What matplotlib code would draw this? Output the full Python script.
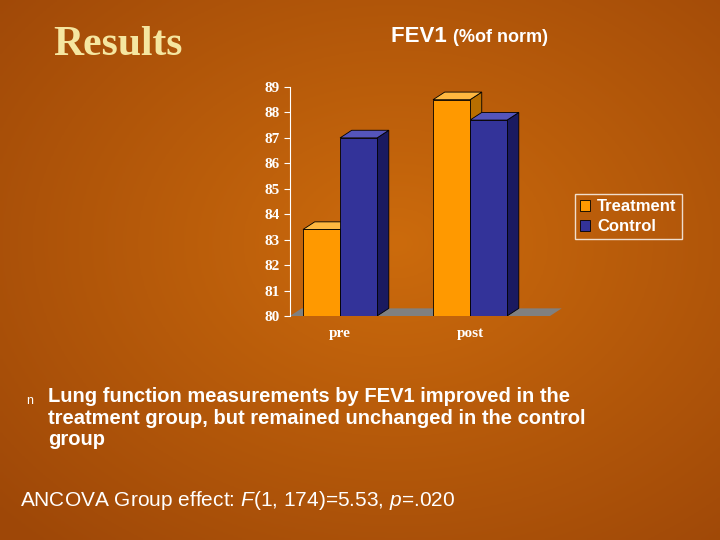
import numpy as np
import matplotlib
matplotlib.use("Agg")
import matplotlib.pyplot as plt
from matplotlib.patches import Polygon

groups = ["pre", "post"]
treatment = [83.4, 88.5]
control = [87.0, 87.7]
yticks = list(range(80, 90))

plt.rcParams["mathtext.fontset"] = "custom"
plt.rcParams["mathtext.it"] = "Liberation Sans:italic"
plt.rcParams["mathtext.rm"] = "Liberation Sans"

fig = plt.figure(figsize=(7.2, 5.4), dpi=100)
bg = fig.add_axes([0, 0, 1, 1]); bg.set_axis_off()
yy, xx = np.mgrid[0:1:200j, 0:1:200j]
r = np.sqrt((xx - 0.55) ** 2 + (yy - 0.45) ** 2)
img = np.zeros((200, 200, 3))
c1 = np.array([0.80, 0.42, 0.05]); c2 = np.array([0.62, 0.28, 0.03])
t = np.clip(r / 0.75, 0, 1)[..., None]
img[:] = c1 * (1 - t) + c2 * t
bg.imshow(img, extent=[0, 1, 0, 1], aspect="auto")
bg.set_xlim(0, 1); bg.set_ylim(0, 1)

fig.text(118/720, 1-45/540, "Results", family="Liberation Serif", fontsize=30, fontweight="bold", color="#F5E6A0", ha="center", va="center")
fig.text(453/720, 1-37/540, "FEV1 ", family="Liberation Sans", fontsize=16, fontweight="bold", color="white", ha="right", va="center")
fig.text(453/720, 1-37/540, "(%of norm)", family="Liberation Sans", fontsize=13, fontweight="bold", color="white", ha="left", va="center")
fig.text(26/720, 1-401/540, "n", family="Liberation Sans", fontsize=9, color="white", va="center")
fig.text(48/720, 1-418/540, "Lung function measurements by FEV1 improved in the\ntreatment group, but remained unchanged in the control\ngroup",
         family="Liberation Sans", fontsize=14.5, fontweight="bold", color="white", va="center", linespacing=1.15)
fig.text(20/720, 1-500/540, "ANCOVA Group effect: $F$(1, 174)=5.53, $p$=.020",
         family="Liberation Sans", fontsize=15, color="white", va="center")

ax = fig.add_axes([290/720, 1-316/540, 260/720, (316-87)/540])
ax.set_facecolor("none")
x = np.arange(len(groups))
w = 0.285
dx, dy = 0.09, 0.3
def bar3d(xc, val, front, side, top, label):
    val = np.asarray(val)
    ax.bar(xc, val - 80, w, bottom=80, color=front, edgecolor="black", linewidth=0.6, label=label, zorder=3)
    for xi, v in zip(xc, val):
        l, rr = xi - w/2, xi + w/2
        ax.add_patch(Polygon([(rr, 80), (rr+dx, 80+dy), (rr+dx, v+dy), (rr, v)], closed=True, fc=side, ec="black", lw=0.6, zorder=2))
        ax.add_patch(Polygon([(l, v), (l+dx, v+dy), (rr+dx, v+dy), (rr, v)], closed=True, fc=top, ec="black", lw=0.6, zorder=2))
bar3d(x - w/2, treatment, "#FF9900", "#B86E00", "#FFB840", "Treatment")
bar3d(x + w/2, control, "#333399", "#1A1A60", "#5555BB", "Control")
ax.add_patch(Polygon([(-0.385, 80), (1.615, 80), (1.615+dx, 80+dy), (-0.385+dx, 80+dy)], closed=True, fc="#808080", ec="none", zorder=1, clip_on=False))
ax.set_xlim(-0.385, 1.615)
ax.set_ylim(80, 89)
ax.set_yticks(yticks)
ax.set_xticks(x)
ax.set_xticklabels(groups)
for s in ["top", "right", "bottom"]:
    ax.spines[s].set_visible(False)
ax.spines["left"].set_color("white")
ax.tick_params(axis="y", colors="white", length=4, direction="out")
ax.tick_params(axis="x", length=0, pad=8)
for lab in ax.get_yticklabels() + ax.get_xticklabels():
    lab.set_family("Liberation Serif"); lab.set_fontweight("bold"); lab.set_color("white"); lab.set_fontsize(11)
leg = fig.legend(loc="upper left", bbox_to_anchor=(567/720, 1-186/540), frameon=True, prop={"family": "Liberation Sans", "weight": "bold", "size": 12},
                 handlelength=0.6, handleheight=0.6, borderpad=0.3, labelspacing=0.3, handletextpad=0.4)
leg.get_frame().set_facecolor("none"); leg.get_frame().set_edgecolor("white"); leg.get_frame().set_boxstyle("square,pad=0")
for t_ in leg.get_texts():
    t_.set_color("white")
fig.savefig("out.png", dpi=100)
